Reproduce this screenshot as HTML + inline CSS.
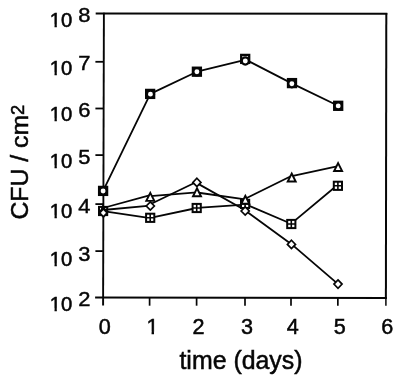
<!DOCTYPE html>
<html><head><meta charset="utf-8">
<style>
html,body{margin:0;padding:0;background:#fff;}
svg{display:block;filter:blur(0.4px);}
text{font-family:"Liberation Sans",Arial,Helvetica,sans-serif;fill:#060606;stroke:#060606;stroke-width:0.5px;}
</style></head>
<body>
<svg width="400" height="381" viewBox="0 0 400 381">
<rect width="400" height="381" fill="#fff"/>
<g stroke="#060606" fill="none" stroke-width="2">
<line x1="103.9" y1="12.8" x2="103.1" y2="305.6" stroke-width="1.9"/>
<line x1="386.3" y1="13" x2="385.9" y2="298.6"/>
<line x1="385.9" y1="298" x2="385.9" y2="305.8" stroke-width="1.5"/>
<line x1="95.7" y1="13.4" x2="387.3" y2="13.85"/>
<line x1="95.1" y1="297.5" x2="386.9" y2="297.9"/>
<line x1="95.4" y1="61.80" x2="104" y2="61.80" stroke-width="1.8"/>
<line x1="95.4" y1="108.50" x2="104" y2="108.50" stroke-width="1.8"/>
<line x1="95.4" y1="155.10" x2="104" y2="155.10" stroke-width="1.8"/>
<line x1="95.4" y1="204.10" x2="104" y2="204.10" stroke-width="1.8"/>
<line x1="95.4" y1="251.10" x2="104" y2="251.10" stroke-width="1.8"/>
<line x1="149.60" y1="297" x2="149.60" y2="305.7" stroke-width="1.7"/>
<line x1="196.60" y1="297" x2="196.60" y2="305.7" stroke-width="1.7"/>
<line x1="245.00" y1="297" x2="245.00" y2="305.7" stroke-width="1.7"/>
<line x1="291.00" y1="297" x2="291.00" y2="305.7" stroke-width="1.7"/>
<line x1="337.85" y1="297" x2="337.85" y2="305.7" stroke-width="1.7"/>
</g>
<g stroke="#060606" fill="#fff">
<path d="M103.10 211.05L150.30 218.20M150.30 217.80L196.90 208.00M196.90 207.80L245.20 204.60M245.20 204.20L291.80 224.00M291.80 223.10L338.10 184.50" stroke-width="1.8" fill="none" stroke-linecap="round"/>
<rect x="99.00" y="206.90" width="8.2" height="8.2" stroke-width="2"/>
<path d="M103.10 207.00V215.00M99.10 211.00H107.10" stroke-width="2.6"/>
<rect x="146.10" y="213.70" width="8.2" height="8.2" stroke-width="2"/>
<path d="M150.20 213.80V221.80M146.20 217.80H154.20" stroke-width="1.6"/>
<rect x="192.60" y="203.90" width="8.2" height="8.2" stroke-width="2"/>
<path d="M196.70 204.00V212.00M192.70 208.00H200.70" stroke-width="1.6"/>
<rect x="241.00" y="199.80" width="8.2" height="8.2" stroke-width="2"/>
<path d="M245.10 199.90V207.90M241.10 203.90H249.10" stroke-width="1.6"/>
<rect x="287.20" y="219.90" width="8.2" height="8.2" stroke-width="2"/>
<path d="M291.30 220.00V228.00M287.30 224.00H295.30" stroke-width="1.6"/>
<rect x="333.80" y="181.70" width="8.2" height="8.2" stroke-width="2"/>
<path d="M337.90 181.80V189.80M333.90 185.80H341.90" stroke-width="1.6"/>
<path d="M103.10 208.00L150.30 195.10M150.30 196.20L196.90 192.40M196.90 192.50L245.20 199.30M245.20 198.80L291.80 175.70M291.80 176.10L338.10 166.20" stroke-width="1.8" fill="none" stroke-linecap="round"/>
<polygon points="103.00,206.75 106.10,214.75 99.90,214.75" stroke-width="2.4" stroke-linejoin="miter"/>
<polygon points="150.30,192.85 154.30,200.85 146.30,200.85" stroke-width="1.9" stroke-linejoin="miter"/>
<polygon points="197.00,188.25 201.00,196.25 193.00,196.25" stroke-width="1.9" stroke-linejoin="miter"/>
<polygon points="245.30,195.75 249.30,203.75 241.30,203.75" stroke-width="1.9" stroke-linejoin="miter"/>
<polygon points="291.70,173.50 295.70,181.50 287.70,181.50" stroke-width="1.9" stroke-linejoin="miter"/>
<polygon points="338.10,163.05 342.10,171.05 334.10,171.05" stroke-width="1.9" stroke-linejoin="miter"/>
<path d="M103.10 210.00L150.30 205.60M150.30 204.20L196.90 181.70M196.90 183.10L245.20 210.20M245.20 210.60L291.80 244.40M291.80 244.40L338.10 284.10" stroke-width="1.8" fill="none" stroke-linecap="round"/>
<polygon points="103.40,208.85 107.15,212.90 103.40,216.95 99.65,212.90" stroke-width="1.7"/>
<polygon points="150.30,201.85 154.35,206.00 150.30,210.15 146.25,206.00" stroke-width="1.7"/>
<polygon points="196.90,178.25 200.95,182.40 196.90,186.55 192.85,182.40" stroke-width="1.7"/>
<polygon points="245.20,206.85 249.25,211.00 245.20,215.15 241.15,211.00" stroke-width="1.7"/>
<polygon points="291.45,240.25 295.50,244.40 291.45,248.55 287.40,244.40" stroke-width="1.7"/>
<polygon points="338.00,279.95 342.05,284.10 338.00,288.25 333.95,284.10" stroke-width="1.7"/>
<path d="M103.10 190.90L150.30 93.90M150.30 93.90L196.90 71.70M196.90 71.70L245.20 59.90M245.20 59.40L291.80 83.40M291.80 83.40L338.10 105.80" stroke-width="1.8" fill="none" stroke-linecap="round"/>
<rect x="99.10" y="186.90" width="8" height="8" stroke-width="2.3"/>
<rect x="146.15" y="89.90" width="8" height="8" stroke-width="2.3"/>
<rect x="192.90" y="67.70" width="8" height="8" stroke-width="2.3"/>
<rect x="241.20" y="54.90" width="8" height="8" stroke-width="2.3"/>
<rect x="288.00" y="79.10" width="8" height="8" stroke-width="2.3"/>
<rect x="334.20" y="101.80" width="8" height="8" stroke-width="2.3"/>
<circle cx="103.10" cy="191.00" r="3.6" stroke-width="2.3"/>
<circle cx="150.45" cy="94.15" r="3.6" stroke-width="2.3"/>
<circle cx="196.90" cy="71.80" r="3.6" stroke-width="2.3"/>
<circle cx="245.30" cy="61.00" r="3.6" stroke-width="2.3"/>
<circle cx="291.85" cy="83.70" r="3.6" stroke-width="2.3"/>
<circle cx="338.20" cy="105.90" r="3.6" stroke-width="2.3"/>
</g>
<g font-size="21.6" text-anchor="middle">
<text x="104.7" y="334.3">0</text>
<text x="152.4" y="334.3">1</text>
<text x="198.6" y="334.3">2</text>
<text x="247.1" y="334.3">3</text>
<text x="292.7" y="334.3">4</text>
<text x="339.8" y="334.3">5</text>
<text x="387.3" y="334.3">6</text>
</g>
<rect x="146.44" y="331.69" width="5.11" height="4.21" fill="#fff"/>
<rect x="154.01" y="331.69" width="4.74" height="4.21" fill="#fff"/>
<text x="241" y="369.4" font-size="24.9" text-anchor="middle">time (days)</text>
<text transform="translate(27.7,219.6) rotate(-90)" font-size="24.8">CFU / cm<tspan font-size="18.4" dy="-4">2</tspan></text>
<text x="49.7" y="27" font-size="20.2" style="stroke-width:0.55px">10</text>
<text transform="translate(78.2,22) scale(1.06,1)" font-size="20.7" style="stroke-width:0.45px">8</text>
<rect x="49.64" y="24.49" width="4.86" height="4.11" fill="#fff"/>
<rect x="56.84" y="24.49" width="4.50" height="4.11" fill="#fff"/>
<text x="49.7" y="75" font-size="20.2" style="stroke-width:0.55px">10</text>
<text transform="translate(78.2,70) scale(1.06,1)" font-size="20.7" style="stroke-width:0.45px">7</text>
<rect x="49.64" y="72.49" width="4.86" height="4.11" fill="#fff"/>
<rect x="56.84" y="72.49" width="4.50" height="4.11" fill="#fff"/>
<text x="49.7" y="121" font-size="20.2" style="stroke-width:0.55px">10</text>
<text transform="translate(78.2,117) scale(1.06,1)" font-size="20.7" style="stroke-width:0.45px">6</text>
<rect x="49.64" y="118.49" width="4.86" height="4.11" fill="#fff"/>
<rect x="56.84" y="118.49" width="4.50" height="4.11" fill="#fff"/>
<text x="49.7" y="168" font-size="20.2" style="stroke-width:0.55px">10</text>
<text transform="translate(78.2,164) scale(1.06,1)" font-size="20.7" style="stroke-width:0.45px">5</text>
<rect x="49.64" y="165.49" width="4.86" height="4.11" fill="#fff"/>
<rect x="56.84" y="165.49" width="4.50" height="4.11" fill="#fff"/>
<text x="49.7" y="218" font-size="20.2" style="stroke-width:0.55px">10</text>
<text transform="translate(78.2,213) scale(1.06,1)" font-size="20.7" style="stroke-width:0.45px">4</text>
<rect x="49.64" y="215.49" width="4.86" height="4.11" fill="#fff"/>
<rect x="56.84" y="215.49" width="4.50" height="4.11" fill="#fff"/>
<text x="49.7" y="266" font-size="20.2" style="stroke-width:0.55px">10</text>
<text transform="translate(78.2,261) scale(1.06,1)" font-size="20.7" style="stroke-width:0.45px">3</text>
<rect x="49.64" y="263.49" width="4.86" height="4.11" fill="#fff"/>
<rect x="56.84" y="263.49" width="4.50" height="4.11" fill="#fff"/>
<text x="49.7" y="311" font-size="20.2" style="stroke-width:0.55px">10</text>
<text transform="translate(78.2,306) scale(1.06,1)" font-size="20.7" style="stroke-width:0.45px">2</text>
<rect x="49.64" y="308.49" width="4.86" height="4.11" fill="#fff"/>
<rect x="56.84" y="308.49" width="4.50" height="4.11" fill="#fff"/>
</svg>
</body></html>
